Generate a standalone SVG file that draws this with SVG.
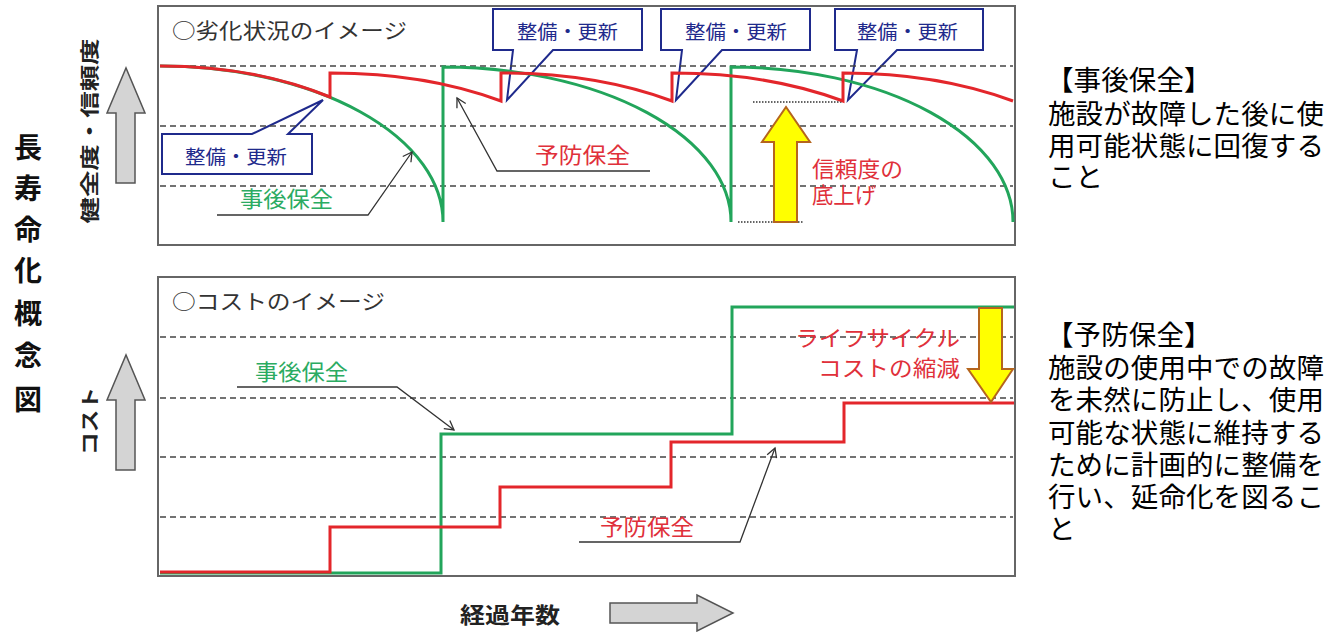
<svg xmlns="http://www.w3.org/2000/svg" width="1343" height="632" viewBox="0 0 1343 632">
<style>
.t{font-family:"Noto Sans CJK JP","Noto Sans",sans-serif;dominant-baseline:central}
.frame{fill:#fff;stroke:#666;stroke-width:2}
.dash{stroke:#444;stroke-width:1.5;stroke-dasharray:6 4;fill:none}
.dot{stroke:#333;stroke-width:1.5;stroke-dasharray:1.5 1.5;fill:none}
.red{stroke:#e3262b;stroke-width:3;fill:none;stroke-linejoin:miter}
.green{stroke:#22a55b;stroke-width:3;fill:none}
.callout{fill:#fff;stroke:#1f2a8c;stroke-width:2;stroke-linejoin:miter}
.ctext{fill:#1f2a8c;font-size:19px}
.ptr{stroke:#333;stroke-width:1.3;fill:none;marker-end:url(#open)}
.yel{fill:#ffff00;stroke:#b5651d;stroke-width:2}
.gray{fill:#d4d4d4;stroke:#555;stroke-width:1.5}
.lg{fill:#2bab62;font-size:22px}
.lr{fill:#e0303a;font-size:22px}
.desc{fill:#000;font-size:27.5px;letter-spacing:0.1px}
</style>
<defs>
<marker id="open" markerWidth="12" markerHeight="12" refX="10" refY="6" orient="auto" markerUnits="userSpaceOnUse">
<path d="M1,1 L10,6 L1,11" fill="none" stroke="#333" stroke-width="1.3"/>
</marker>
</defs>
<rect width="1343" height="632" fill="#fff"/>

<g id="title">
<text class="t" x="28" font-size="28" font-weight="bold" text-anchor="middle" fill="#111"><tspan x="28" y="146">長</tspan><tspan x="28" y="187">寿</tspan><tspan x="28" y="228">命</tspan><tspan x="28" y="269">化</tspan><tspan x="28" y="312">概</tspan><tspan x="28" y="354">念</tspan><tspan x="28" y="398">図</tspan></text>
</g>

<g id="axis-health">
<text class="t" transform="translate(88,131) rotate(-90)" x="0" y="0" text-anchor="middle" font-size="19" font-weight="bold" fill="#222" textLength="185" lengthAdjust="spacingAndGlyphs">健全度・信頼度</text>
<polygon class="gray" points="116,183 135,183 135,113 145,113 126,68 107,113 116,113"/>
</g>
<g id="axis-cost">
<text class="t" transform="translate(88,421) rotate(-90)" x="0" y="0" text-anchor="middle" font-size="19" font-weight="bold" fill="#222" textLength="68" lengthAdjust="spacingAndGlyphs">コスト</text>
<polygon class="gray" points="116,470 135,470 135,400 145,400 126,355 107,400 116,400"/>
</g>
<g id="axis-years">
<text class="t" x="460" y="613" font-size="22" font-weight="bold" fill="#222" textLength="100" lengthAdjust="spacingAndGlyphs">経過年数</text>
<polygon class="gray" points="610,603 697,603 697,595 733,613 697,631 697,623 610,623"/>
</g>

<g id="chart-deterioration">
<rect class="frame" x="158" y="6" width="857" height="239"/>
<text class="t" x="172" y="29" font-size="21" fill="#333" textLength="235" lengthAdjust="spacingAndGlyphs">○劣化状況のイメージ</text>
<g id="callouts">
<path class="callout" d="M162,134 H252 L323,100 L288,134 H312 V174 H162 Z"/>
<text class="t ctext" x="185" y="155" textLength="102" lengthAdjust="spacingAndGlyphs">整備・更新</text>
<path class="callout" d="M493,9 H642 V50 H553 L507,100 L513,50 H493 Z"/>
<text class="t ctext" x="517" y="30" textLength="101" lengthAdjust="spacingAndGlyphs">整備・更新</text>
<path class="callout" d="M661,9 H810 V50 H722 L676,100 L682,50 H661 Z"/>
<text class="t ctext" x="685" y="30" textLength="102" lengthAdjust="spacingAndGlyphs">整備・更新</text>
<path class="callout" d="M835,9 H983 V50 H897 L848,100 L857,50 H835 Z"/>
<text class="t ctext" x="857" y="30" textLength="101" lengthAdjust="spacingAndGlyphs">整備・更新</text>
</g>
<g id="grid-top">
<line class="dash" x1="160" y1="66" x2="1013" y2="66"/>
<line class="dash" x1="160" y1="126" x2="1013" y2="126"/>
<line class="dash" x1="160" y1="186" x2="1013" y2="186"/>
<line class="dot" x1="753" y1="102" x2="843" y2="102"/>
<line class="dot" x1="738" y1="222" x2="803" y2="222"/>
</g>
<path id="curve-corrective" class="green" d="M160,66 A283,156 0 0 1 443,222 V67 A288,155 0 0 1 731,222 V67 A282,155 0 0 1 1013,222"/>
<path id="curve-preventive" class="red" d="M160,66 A283,156 0 0 1 330,97 V73 A283,140 0 0 1 501,101 V73 A283,140 0 0 1 672,101 V73 A283,140 0 0 1 843,101 V73 A283,140 0 0 1 1013,101"/>
<g id="labels-top">
<text class="t lg" x="240" y="197" textLength="93" lengthAdjust="spacingAndGlyphs">事後保全</text>
<text class="t lr" x="535" y="153" textLength="95" lengthAdjust="spacingAndGlyphs">予防保全</text>
<text class="t lr"><tspan x="812" y="167" textLength="91" lengthAdjust="spacingAndGlyphs">信頼度の</tspan><tspan x="812" y="193" textLength="64" lengthAdjust="spacingAndGlyphs">底上げ</tspan></text>
</g>
<polygon id="arrow-raise" class="yel" points="774,222 797,222 797,142 810,142 786,107 762,142 774,142"/>
</g>

<g id="chart-cost">
<rect class="frame" x="158" y="277" width="857" height="299"/>
<text class="t" x="172" y="300" font-size="21" fill="#333" textLength="213" lengthAdjust="spacingAndGlyphs">○コストのイメージ</text>
<g id="grid-bottom">
<line class="dash" x1="160" y1="337" x2="1013" y2="337"/>
<line class="dash" x1="160" y1="398" x2="1013" y2="398"/>
<line class="dash" x1="160" y1="457" x2="1013" y2="457"/>
<line class="dash" x1="160" y1="517" x2="1013" y2="517"/>
</g>
<path id="cost-corrective" class="green" d="M160,573 H441 V434 H732 V307 H1014"/>
<path id="cost-preventive" class="red" d="M160,572 H330 V527 H500 V487 H671 V442 H844 V403 H1014"/>
<g id="labels-bottom">
<text class="t lg" x="255" y="370" textLength="93" lengthAdjust="spacingAndGlyphs">事後保全</text>
<text class="t lr" x="600" y="525" textLength="94" lengthAdjust="spacingAndGlyphs">予防保全</text>
<text class="t lr"><tspan x="795" y="336" textLength="165" lengthAdjust="spacingAndGlyphs">ライフサイクル</tspan><tspan x="818" y="366" textLength="142" lengthAdjust="spacingAndGlyphs">コストの縮減</tspan></text>
</g>
<polygon id="arrow-reduce" class="yel" points="979,308 1002,308 1002,369 1013,369 991,402 968,369 979,369"/>
</g>

<g id="connectors">
<polyline class="ptr" points="217,215 368,215 412,152"/>
<polyline class="ptr" points="650,171 497,171 457,98"/>
<polyline class="ptr" points="237,387 397,387 454,430"/>
<polyline class="ptr" points="579,542 740,542 775,448"/>
</g>

<g id="note-corrective">
<text class="t desc"><tspan x="1046" y="78">【事後保全】</tspan><tspan x="1048" y="112">施設が故障した後に使</tspan><tspan x="1048" y="144">用可能状態に回復する</tspan><tspan x="1048" y="175">こと</tspan></text>
</g>
<g id="note-preventive">
<text class="t desc"><tspan x="1046" y="333">【予防保全】</tspan><tspan x="1048" y="366">施設の使用中での故障</tspan><tspan x="1048" y="398">を未然に防止し、使用</tspan><tspan x="1048" y="431">可能な状態に維持する</tspan><tspan x="1048" y="463">ために計画的に整備を</tspan><tspan x="1048" y="495">行い、延命化を図るこ</tspan><tspan x="1048" y="527">と</tspan></text>
</g>
</svg>
